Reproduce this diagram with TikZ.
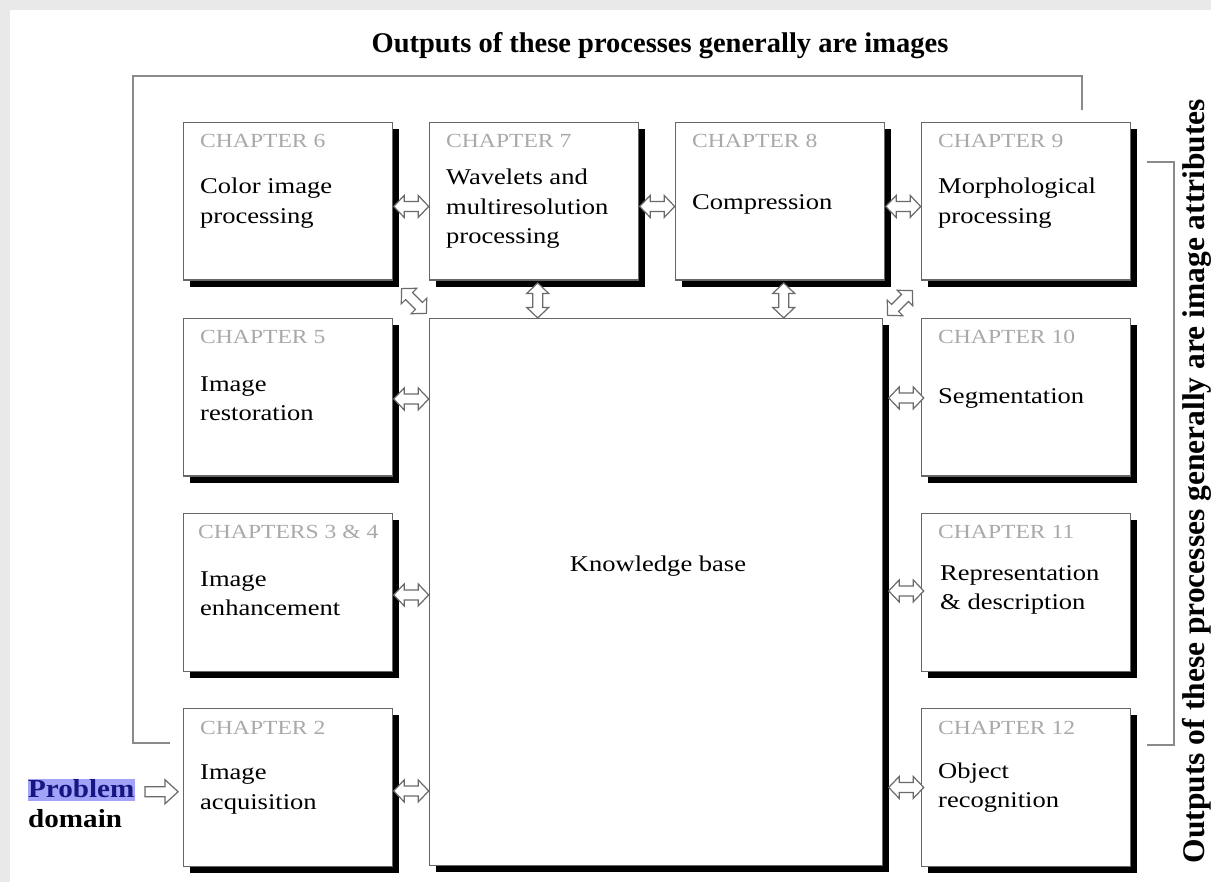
\documentclass[tikz,border=0pt]{standalone}
\usepackage{fontspec}
\setmainfont{Liberation Serif}
\newfontfamily\boxfont[FakeStretch=1.18]{Liberation Serif}
\newfontfamily\probfont[FakeStretch=1.12]{Liberation Serif}
\usetikzlibrary{shadows,calc}
\definecolor{bggray}{HTML}{E9E9E9}
\definecolor{boxgray}{HTML}{666666}
\definecolor{chapgray}{HTML}{A9A9A9}
\definecolor{linegray}{HTML}{8A8A8A}
\definecolor{arrgray}{HTML}{6A6A6A}
\definecolor{hlblue}{RGB}{162,162,248}
\definecolor{navy}{RGB}{22,22,130}
\tikzset{
  box/.style={draw=boxgray, line width=1.4pt, fill=white, anchor=north west,
    inner sep=0pt, minimum width=209pt, minimum height=157.5pt,
    drop shadow={shadow xshift=6.5pt, shadow yshift=-6.5pt, opacity=1, fill=black}},
  chap/.style={anchor=base west, inner sep=0pt, text=chapgray, font=\boxfont\fontsize{20}{24}\selectfont},
  lbl/.style={anchor=west, inner sep=0pt, align=left, font=\boxfont\fontsize{22.5}{29.5}\selectfont},
  arrowline/.style={draw=arrgray, line width=1.2pt, fill=white, line join=miter},
  bracket/.style={draw=linegray, line width=1.8pt},
  darr/.pic={\path[arrowline] (-17.5,0) -- (-7,11) -- (-7,5) -- (7,5) -- (7,11) -- (17.5,0)
      -- (7,-11) -- (7,-5) -- (-7,-5) -- (-7,-11) -- cycle;},
  sarr/.pic={\path[arrowline] (-16.5,5) -- (3.5,5) -- (3.5,12) -- (16.5,0) -- (3.5,-12)
      -- (3.5,-5) -- (-16.5,-5) -- cycle;}
}
\begin{document}
\begin{tikzpicture}[x=1pt,y=-1pt]
\useasboundingbox (0,0) rectangle (1211,882);
\fill[bggray] (0,0) rectangle (1211,882);
\fill[white] (10,10) rectangle (1211,882);

% brackets
\coordinate (tl) at (170,743);
\coordinate (tr) at (1082,110);
\draw[bracket] (tl) -- (133,743) -- (133,76) -- (1082,76) -- (tr);
\coordinate (rt) at (1147,162);
\coordinate (rb) at (1147,745);
\draw[bracket] (rt) -- (1174,162) -- (1174,745) -- (rb);

\node[font=\bfseries\fontsize{28.5}{32}\selectfont, inner sep=0pt] (title) at (660,46)
  {Outputs of these processes generally are images};
\node[font=\bfseries\fontsize{31.5}{34}\selectfont, inner sep=0pt, rotate=90] (vtitle) at (1197,481)
  {Outputs of these processes generally are image attributes};

% boxes
\node[box] (c6) at (183,122) {};
\node[box] (c7) at (429,122) {};
\node[box] (c8) at (675,122) {};
\node[box] (c9) at (921,122) {};
\node[box] (c5) at (183,318) {};
\node[box] (c34) at (183,513) {};
\node[box] (c2) at (183,708) {};
\node[box] (c10) at (921,318) {};
\node[box] (c11) at (921,513) {};
\node[box] (c12) at (921,708) {};
\node[box, minimum width=453pt, minimum height=547pt] (kb) at (429,318) {};

% chapter labels
\node[chap] (h6) at (200,148) {CHAPTER 6};
\node[chap] (h7) at (446,148) {CHAPTER 7};
\node[chap] (h8) at (692,148) {CHAPTER 8};
\node[chap] (h9) at (938,148) {CHAPTER 9};
\node[chap] (h5) at (200,344) {CHAPTER 5};
\node[chap] (h34) at (198,539) {CHAPTERS 3 \& 4};
\node[chap] (h2) at (200,734) {CHAPTER 2};
\node[chap] (h10) at (938,344) {CHAPTER 10};
\node[chap] (h11) at (938,539) {CHAPTER 11};
\node[chap] (h12) at (938,734) {CHAPTER 12};

% main labels
\node[lbl] (t6) at (200,203) {Color image\\processing};
\node[lbl] (t7) at (446,209) {Wavelets and\\multiresolution\\processing};
\node[lbl] (t8) at (692,204) {Compression};
\node[lbl] (t9) at (938,203) {Morphological\\processing};
\node[lbl] (t5) at (200,398.5) {Image\\restoration};
\node[lbl] (t10) at (938,398) {Segmentation};
\node[lbl] (t34) at (200,593.5) {Image\\enhancement};
\node[lbl] (t11) at (940,590) {Representation\\\& description};
\node[lbl] (t2) at (200,789.5) {Image\\acquisition};
\node[lbl] (t12) at (938,787.5) {Object\\recognition};
\node[lbl, anchor=center] (tkb) at (658,566) {Knowledge base};

% problem domain
\node[anchor=base west, inner xsep=0.5pt, inner ysep=0pt, fill=hlblue, text=navy,
  text height=18pt, text depth=4pt, font=\probfont\bfseries\fontsize{26}{30}\selectfont]
  (prob) at (27.5,797) {Problem};
\node[anchor=base west, inner sep=0pt, font=\probfont\bfseries\fontsize{26}{30}\selectfont]
  (dom) at (28,827) {domain};
\pic at ($(prob.east)!0.5!(c2.west)+(2.5,3)$) {sarr};

% double arrows
\pic at ($(c6.east)!0.5!(c7.west)+(0,5)$) {darr};
\pic at ($(c7.east)!0.5!(c8.west)+(0,5)$) {darr};
\pic at ($(c8.east)!0.5!(c9.west)+(0,5)$) {darr};
\pic[rotate=90] at ($(c7.south)!0.5!(c7.south |- kb.north)+(3.5,1)$) {darr};
\pic[rotate=90] at ($(c8.south)!0.5!(c8.south |- kb.north)+(3.5,1)$) {darr};
\pic[rotate=-45] at (414,301) {darr};
\pic[rotate=45] at (900,303) {darr};
\pic at ($(c5.east)!0.5!(kb.west |- c5.east)+(0,1.5)$) {darr};
\pic at ($(c34.east)!0.5!(kb.west |- c34.east)+(0,2.5)$) {darr};
\pic at ($(c2.east)!0.5!(kb.west |- c2.east)+(0,3.5)$) {darr};
\pic at ($(kb.east |- c10.west)!0.5!(c10.west)+(4,0.5)$) {darr};
\pic at ($(kb.east |- c11.west)!0.5!(c11.west)+(4,-1.5)$) {darr};
\pic at ($(kb.east |- c12.west)!0.5!(c12.west)+(4,0)$) {darr};
\end{tikzpicture}
\end{document}
